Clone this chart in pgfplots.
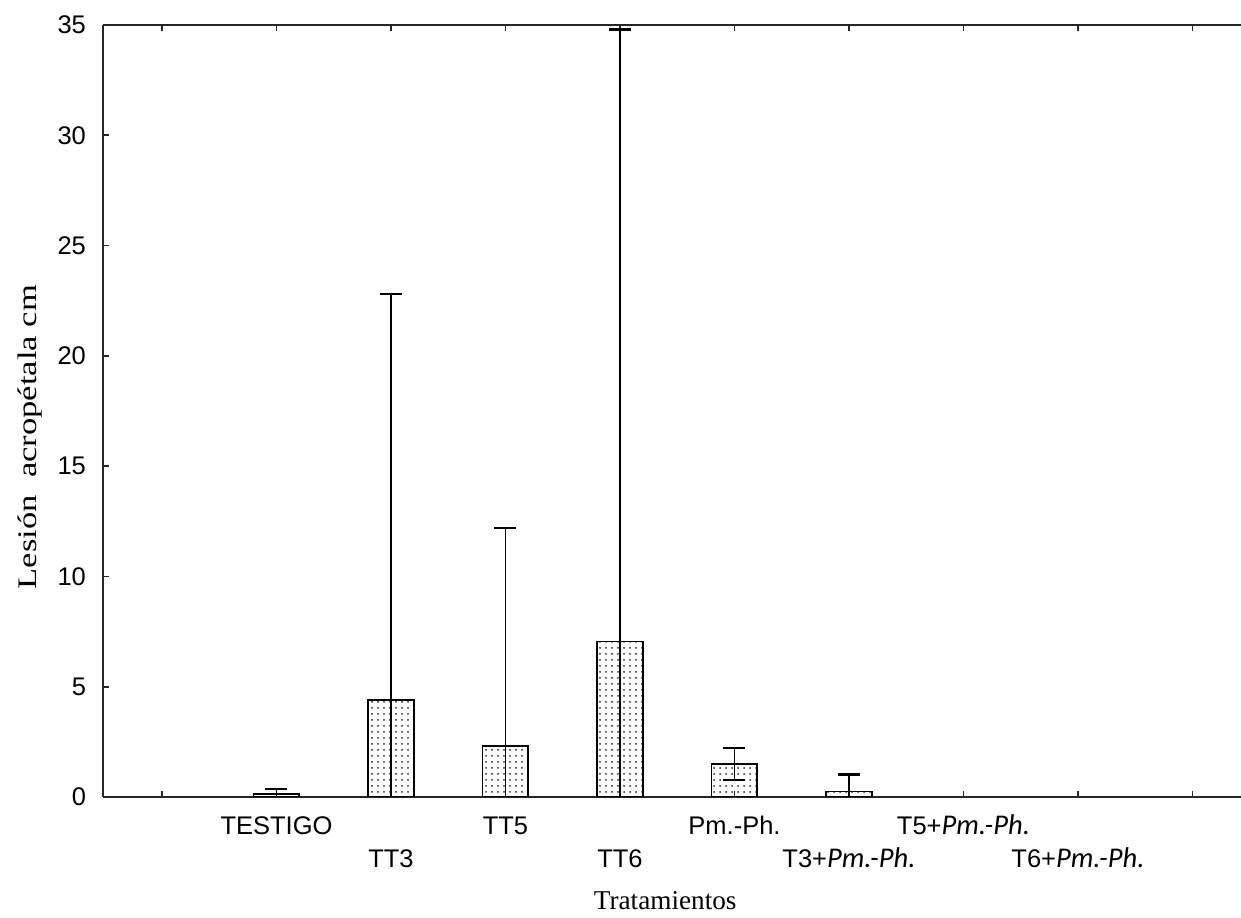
\documentclass[border=0pt]{standalone}
\usepackage{fontspec}
\setmainfont{Liberation Sans}
\newfontfamily\serifF{Liberation Serif}
\newfontfamily\calF[Scale=1.12]{Carlito}
\usepackage{pgfplots}
\pgfplotsset{compat=1.18}
\usetikzlibrary{patterns}
\begin{document}
\begin{tikzpicture}
\begin{axis}[
  scale only axis,
  width=569pt, height=386pt,
  xmin=-0.515, xmax=9.424,
  ymin=0, ymax=35,
  ytick={0,5,...,35},
  xtick={0,...,9},
  xticklabels={,TESTIGO,,TT5,,Pm.-Ph.,,T5+{\calF\itshape Pm.-Ph.},,},
  extra x ticks={2,4,6,8},
  extra x tick labels={TT3,TT6,T3+{\calF\itshape Pm.-Ph.},T6+{\calF\itshape Pm.-Ph.}},
  extra x tick style={major tick length=0pt, xticklabel style={yshift=-16.5pt}},
  axis x line=box,
  axis y line=left,
  axis line style={-, line width=0.8pt, black!85},
  tick align=inside,
  major tick length=3pt,
  tick style={line width=0.8pt, black!85},
  /pgf/number format/assume math mode=true,
  tick label style={font=\fontsize{12.75}{14}\selectfont},
  yticklabel style={xshift=-5pt},
  xticklabel style={yshift=-6pt, text height=9.2pt, text depth=0pt},
  every axis x label/.style={at={(axis description cs:0.494,0)}, anchor=north, yshift=-43.5pt},
  every axis y label/.style={at={(axis description cs:-0.0641,0.466)}, anchor=center, rotate=90},
  xlabel={\serifF\fontsize{13.6}{15}\selectfont Tratamientos},
  ylabel={\scalebox{1.29}[1]{\serifF\fontsize{13.4}{15}\selectfont Lesión\ \ acropétala cm}},
  clip=true,
]
\addplot[ybar, bar width=0.4, draw=black, line width=0.9pt,
  pattern=dots, pattern color=black!85,
  error bars/.cd, y dir=both, y explicit,
  error bar style={line width=0.8pt, black},
  error mark options={rotate=90, line width=1.2pt, mark size=5.5pt, black}]
coordinates {
  (1,0.15) +- (0,0.2)
  (2,4.4) +- (0,18.4)
  (3,2.3) +- (0,9.9)
  (4,7.05) +- (0,27.75)
  (5,1.5) +- (0,0.72)
  (6,0.25) +- (0,0.77)
};
\end{axis}
\pgfresetboundingbox
\path ([xshift=-51.5pt,yshift=-60.5pt]current axis.south west) rectangle ([yshift=12.5pt]current axis.north east);
\end{tikzpicture}
\end{document}
